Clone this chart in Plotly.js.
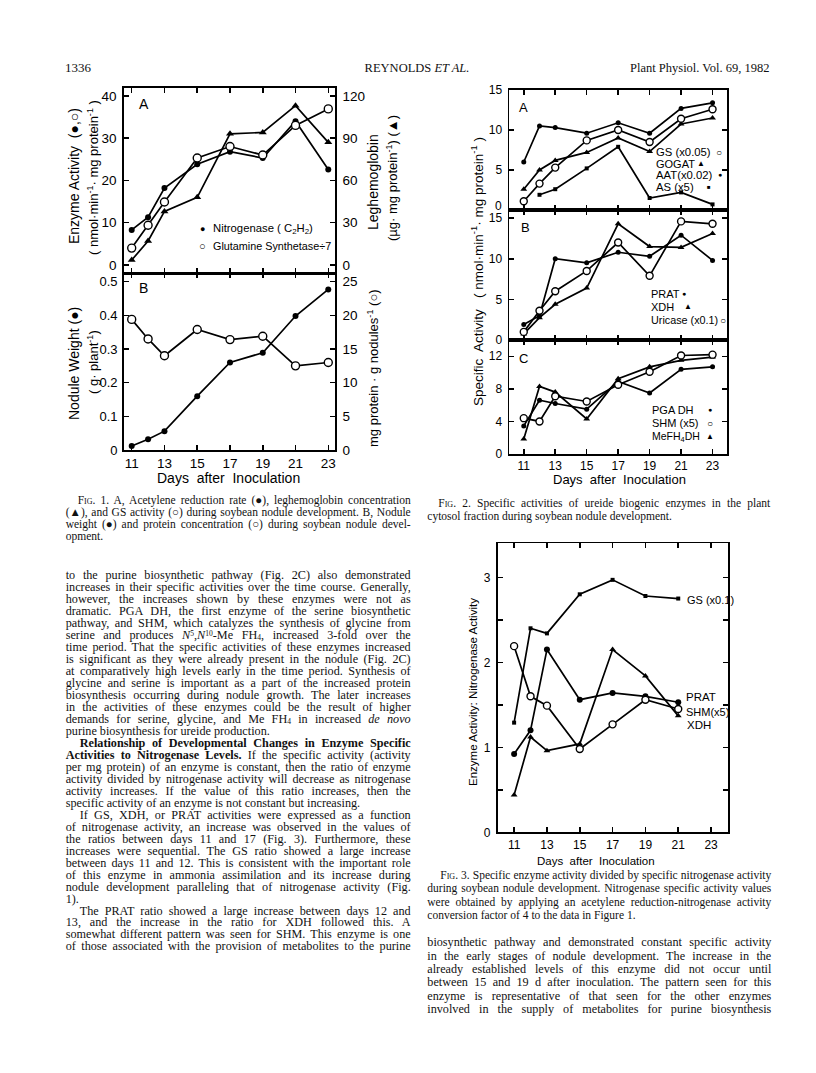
<!DOCTYPE html>
<html>
<head>
<meta charset="utf-8">
<script src="https://cdn.plot.ly/plotly-3.0.1.min.js"></script>
<style>
  body { margin: 0; background: #fff; }
  #page { position: relative; width: 816px; height: 1073px; overflow: hidden; background: #fff; }
  #plot { position: absolute; left: 0; top: 0; width: 816px; height: 1073px; }
  .ln { position: absolute; white-space: pre; font-family: "Liberation Serif", "Times New Roman", serif;
        line-height: 1; color: #111; }
  .ln sup, .ln sub { font-size: 0.62em; line-height: 0; position: relative; vertical-align: baseline; }
  .ln sup { top: -0.38em; }
  .ln sub { top: 0.12em; }
  .sc { font-variant: small-caps; }
</style>
</head>
<body>
<div id="page"><div id="plot"></div></div>
<script>
// ---- data ----
const days = [11, 12, 13, 15, 17, 19, 21, 23];
const tickDays = [11, 13, 15, 17, 19, 21, 23];

// Fig 1A
const nitrogenase = [8.3, 11.3, 18.2, 23.8, 26.8, 25.3, 34.0, 22.6];
const gsDiv7 = [4.0, 9.4, 14.9, 25.3, 28.0, 26.0, 33.0, 36.9];
const leghemoglobin = [3.5, 17, 38, 48, 93, 94, 113, 87];
// Fig 1B
const noduleWeight = [0.012, 0.032, 0.056, 0.16, 0.26, 0.289, 0.398, 0.477];
const noduleProtein = [19.4, 16.5, 14.0, 17.9, 16.4, 16.9, 12.5, 13.0];

// Fig 2A
const gs2 = [1.1, 3.3, 5.3, 8.7, 10.0, 8.5, 11.4, 12.6];
const gogat = [2.6, 5.0, 6.2, 7.2, 9.0, 7.3, 10.75, 11.5];
const aat = [6.0, 10.5, 10.3, 9.6, 10.9, 9.6, 12.7, 13.4];
const asDays = [12, 13, 15, 17, 19, 21, 23];
const asx5 = [1.9, 2.6, 5.2, 7.9, 1.5, 2.2, 0.7];
// Fig 2B
const prat = [1.9, 3.0, 10.0, 9.5, 10.8, 10.3, 12.9, 9.8];
const xdh = [0.75, 2.75, 4.4, 6.4, 14.3, 11.5, 11.4, 13.1];
const uricase = [1.0, 3.6, 6.0, 8.5, 12.0, 7.9, 14.6, 14.3];
// Fig 2C
const pgaDh = [3.45, 6.6, 6.2, 5.5, 8.9, 7.5, 10.4, 10.7];
const shm = [4.4, 4.0, 7.1, 6.45, 8.5, 10.1, 12.1, 12.2];
const meFh4Dh = [1.85, 8.3, 7.6, 4.3, 9.25, 10.7, 11.5, 11.9];

// Fig 3
const ratioDays = [11, 12, 13, 15, 17, 19, 21];
const gsRatio = [1.29, 2.40, 2.34, 2.80, 2.97, 2.78, 2.75];
const pratRatio = [0.92, 1.20, 2.15, 1.56, 1.64, 1.60, 1.53];
const shmRatio = [2.19, 1.60, 1.49, 0.98, 1.27, 1.56, 1.45];
const xdhRatio = [0.44, 1.12, 0.96, 1.04, 2.15, 1.84, 1.37];

// ---- page text (">" = indented first line, "|" at end = not justified) ----
const header = ["1336", "REYNOLDS <i>ET AL.</i>", "Plant Physiol. Vol. 69, 1982"];

const fig1Caption = [
    ">F<span class='sc'>ig</span>. 1. A, Acetylene reduction rate (●), leghemoglobin concentration",
    "(▲), and GS activity (○) during soybean nodule development. B, Nodule",
    "weight (●) and protein concentration (○) during soybean nodule devel-",
    "opment.|"];

const fig2Caption = [
    ">F<span class='sc'>ig</span>. 2. Specific activities of ureide biogenic enzymes in the plant",
    "cytosol fraction during soybean nodule development.|"];

const fig3Caption = [
    ">F<span class='sc'>ig</span>. 3. Specific enzyme activity divided by specific nitrogenase activity",
    "during soybean nodule development. Nitrogenase specific activity values",
    "were obtained by applying an acetylene reduction-nitrogenase activity",
    "conversion factor of 4 to the data in Figure 1.|"];

const leftBody = [
    "to the purine biosynthetic pathway (Fig. 2C) also demonstrated",
    "increases in their specific activities over the time course. Generally,",
    "however, the increases shown by these enzymes were not as",
    "dramatic. PGA DH, the first enzyme of the serine biosynthetic",
    "pathway, and SHM, which catalyzes the synthesis of glycine from",
    "serine and produces <i>N</i><sup>5</sup>,<i>N</i><sup>10</sup>-Me FH<sub>4</sub>, increased 3-fold over the",
    "time period. That the specific activities of these enzymes increased",
    "is significant as they were already present in the nodule (Fig. 2C)",
    "at comparatively high levels early in the time period. Synthesis of",
    "glycine and serine is important as a part of the increased protein",
    "biosynthesis occurring during nodule growth. The later increases",
    "in the activities of these enzymes could be the result of higher",
    "demands for serine, glycine, and Me FH<sub>4</sub> in increased <i>de novo</i>",
    "purine biosynthesis for ureide production.|",
    "><b>Relationship of Developmental Changes in Enzyme Specific</b>",
    "<b>Activities to Nitrogenase Levels.</b> If the specific activity (activity",
    "per mg protein) of an enzyme is constant, then the ratio of enzyme",
    "activity divided by nitrogenase activity will decrease as nitrogenase",
    "activity increases. If the value of this ratio increases, then the",
    "specific activity of an enzyme is not constant but increasing.|",
    ">If GS, XDH, or PRAT activities were expressed as a function",
    "of nitrogenase activity, an increase was observed in the values of",
    "the ratios between days 11 and 17 (Fig. 3). Furthermore, these",
    "increases were sequential. The GS ratio showed a large increase",
    "between days 11 and 12. This is consistent with the important role",
    "of this enzyme in ammonia assimilation and its increase during",
    "nodule development paralleling that of nitrogenase activity (Fig.",
    "1).|",
    ">The PRAT ratio showed a large increase between days 12 and",
    "13, and the increase in the ratio for XDH followed this. A",
    "somewhat different pattern was seen for SHM. This enzyme is one",
    "of those associated with the provision of metabolites to the purine"];

const rightBody = [
    "biosynthetic pathway and demonstrated constant specific activity",
    "in the early stages of nodule development. The increase in the",
    "already established levels of this enzyme did not occur until",
    "between 15 and 19 d after inoculation. The pattern seen for this",
    "enzyme is representative of that seen for the other enzymes",
    "involved in the supply of metabolites for purine biosynthesis"];

// ---- helpers ----
const W = 816, H = 1073;
const FONT = "Liberation Sans, Arial, sans-serif";
const AXW = 1.8;

function px(x) { return x / W; }
function py(y) { return 1 - y / H; }

function xaxisDef(x0, x1, range, anchor, labels, fsize)
{
    return { domain: [px(x0), px(x1)], range: range, anchor: anchor,
	     tickmode: "array", tickvals: tickDays, ticktext: tickDays.map(String),
	     showticklabels: labels, ticks: "inside", ticklen: 5, tickwidth: 1.5, tickcolor: "#000",
	     showline: true, linecolor: "#000", linewidth: AXW, mirror: "ticks",
	     showgrid: false, zeroline: false,
	     tickfont: { family: FONT, size: fsize, color: "#000" } };
}

function yaxisDef(y0, y1, range, anchor, vals, text, fsize, extra)
{
    const ax = { domain: [py(y1), py(y0)], range: range, anchor: anchor,
		 tickmode: "array", tickvals: vals, ticktext: text || vals.map(String),
		 ticks: "inside", ticklen: 5, tickwidth: 1.5, tickcolor: "#000",
		 showline: true, linecolor: "#000", linewidth: AXW, mirror: "ticks",
		 showgrid: false, zeroline: false, ticklabelstandoff: 3,
		 tickfont: { family: FONT, size: fsize, color: "#000" } };
    return Object.assign(ax, extra || {});
}

function series(xs, ys, xa, ya, sym, size, open)
{
    return { x: xs, y: ys, xaxis: xa, yaxis: ya, type: "scatter", mode: "lines+markers",
	     line: { color: "#000", width: 1.7 },
	     marker: { symbol: sym, size: size, color: open ? "#fff" : "#000",
		       line: { color: "#000", width: open ? 1.4 : 0 } },
	     cliponaxis: false, showlegend: false, hoverinfo: "skip" };
}

function note(text, x, y, size, opts)
{
    return Object.assign({ text: text, x: px(x), y: py(y), xref: "paper", yref: "paper",
			   showarrow: false, xanchor: "center", yanchor: "middle",
			   font: { family: FONT, size: size, color: "#000" } }, opts || {});
}

function lnote(text, x, y, size) { return note(text, x, y, size, { xanchor: "left" }); }
function vnote(text, x, y, size) { return note(text, x, y, size, { textangle: -90 }); }

// ---- traces ----
const traces = [
    series(days, leghemoglobin, "x", "y2", "triangle-up", 7, false),
    series(days, nitrogenase, "x", "y", "circle", 6, false),
    series(days, gsDiv7, "x", "y", "circle", 8, true),
    series(days, noduleWeight, "x2", "y3", "circle", 6, false),
    series(days, noduleProtein, "x2", "y4", "circle", 8, true),

    series(days, aat, "x3", "y5", "circle", 5, false),
    series(asDays, asx5, "x3", "y5", "square", 4, false),
    series(days, gogat, "x3", "y5", "triangle-up", 6, false),
    series(days, gs2, "x3", "y5", "circle", 7, true),

    series(days, prat, "x4", "y6", "circle", 5, false),
    series(days, xdh, "x4", "y6", "triangle-up", 6, false),
    series(days, uricase, "x4", "y6", "circle", 7, true),

    series(days, pgaDh, "x5", "y7", "circle", 5, false),
    series(days, meFh4Dh, "x5", "y7", "triangle-up", 6, false),
    series(days, shm, "x5", "y7", "circle", 7, true),

    series(ratioDays, gsRatio, "x6", "y8", "square", 4, false),
    series(ratioDays, pratRatio, "x6", "y8", "circle", 6, false),
    series(ratioDays, xdhRatio, "x6", "y8", "triangle-up", 6, false),
    series(ratioDays, shmRatio, "x6", "y8", "circle", 7, true)
];

// ---- layout ----
const f1x = [124, 335], f1r = [10.53, 23.41];
const f2x = [509.3, 726.7], f2r = [10.08, 23.9];
const f3x = [497.7, 728.3], f3r = [10, 24.05];

const layout = {
    width: W, height: H, autosize: false,
    margin: { l: 0, r: 0, t: 0, b: 0, pad: 0 },
    paper_bgcolor: "#fff", plot_bgcolor: "rgba(0,0,0,0)",
    showlegend: false,

    xaxis: xaxisDef(f1x[0], f1x[1], f1r, "y", false, 13),
    yaxis: yaxisDef(88, 273.3, [-1.96, 41.84], "x", [0, 10, 20, 30, 40], null, 13.5, { mirror: false }),
    yaxis2: yaxisDef(88, 273.3, [-5.88, 125.52], "x", [0, 30, 60, 90, 120], null, 13.5,
		     { overlaying: "y", side: "right", mirror: false }),

    xaxis2: xaxisDef(f1x[0], f1x[1], f1r, "y3", true, 13.5),
    yaxis3: yaxisDef(273.3, 450, [0, 0.525], "x2", [0, 0.1, 0.2, 0.3, 0.4, 0.5], null, 13,
		     { mirror: false, ticklabelstandoff: 2 }),
    yaxis4: yaxisDef(273.3, 450, [0, 26.25], "x2", [0, 5, 10, 15, 20, 25], null, 13.5,
		     { overlaying: "y3", side: "right", mirror: false }),

    xaxis3: xaxisDef(f2x[0], f2x[1], f2r, "y5", false, 12),
    yaxis5: yaxisDef(90, 210, [0, 15], "x3", [5, 10, 15], null, 12,
		     { minor: { tickvals: [0], ticks: "inside", ticklen: 5, tickwidth: 1.5, tickcolor: "#000" } }),
    xaxis4: xaxisDef(f2x[0], f2x[1], f2r, "y6", false, 12),
    yaxis6: yaxisDef(210, 340, [0, 16], "x4", [0, 5, 10, 15], null, 12),
    xaxis5: xaxisDef(f2x[0], f2x[1], f2r, "y7", true, 12),
    yaxis7: yaxisDef(340, 454, [0, 14], "x5", [0, 4, 8, 12], null, 12),

    xaxis6: xaxisDef(f3x[0], f3x[1], f3r, "y8", true, 12),
    yaxis8: yaxisDef(543.3, 832.3, [0, 3.4], "x6", [0, 1, 2, 3], null, 12,
		     { minor: { tickvals: [0.5, 1.5, 2.5], ticks: "inside", ticklen: 5, tickwidth: 1.5,
				tickcolor: "#000" } }),

    annotations: [
	// Fig 1
	note("A", 144, 104, 14),
	note("B", 143.5, 288.5, 14),
	note("●", 202, 228.5, 9),
	lnote("Nitrogenase ( C<sub>2</sub>H<sub>2</sub>)", 211, 228.5, 11.3),
	note("○", 202, 246, 11),
	lnote("Glutamine Synthetase÷7", 211, 246, 10.8),
	vnote("Enzyme Activity  (●,○)", 74, 176, 14),
	vnote("( nmol·min<sup>-1</sup>· mg protein<sup>-1</sup> )", 93, 178, 13),
	vnote("Leghemoglobin", 373, 182, 14),
	vnote("(µg· mg protein<sup>-1</sup>) (▲)", 392, 178, 13),
	vnote("Nodule Weight (●)", 74, 364, 14),
	vnote("( g· plant<sup>-1</sup>)", 93, 362, 13),
	vnote("mg protein · g nodules<sup>-1</sup> (○)", 373, 368, 13),
	note("Days  after  Inoculation", 228, 477.7, 14),

	// Fig 2
	note("A", 523.3, 107.5, 13),
	note("B", 525, 228, 13),
	note("C", 523.3, 358, 13),
	note("0", 498.5, 206, 12),
	lnote("GS (x0.05)", 654.3, 152, 11.3),
	note("○", 719.3, 152, 10),
	lnote("GOGAT", 654.3, 164, 11),
	note("▲", 701.4, 164, 8),
	lnote("AAT(x0.02)", 654.3, 174.5, 11.3),
	note("●", 719.5, 175, 7),
	lnote("AS (x5)", 654.3, 186.5, 11.3),
	note("■", 708.8, 187, 6),
	lnote("PRAT", 649, 293.5, 11),
	note("●", 684, 293.5, 7),
	lnote("XDH", 649, 306.5, 11),
	note("▲", 688, 306.5, 8),
	lnote("Uricase (x0.1)", 649, 320, 10.8),
	note("○", 723, 320, 10),
	lnote("PGA DH", 649.5, 410, 11),
	note("●", 710, 410, 7),
	lnote("SHM (x5)", 649.5, 423, 11),
	note("○", 710, 423, 10),
	lnote("MeFH<sub>4</sub>DH", 649.5, 436.5, 10.5),
	note("▲", 710, 436.5, 8),
	vnote("Specific  Activity   ( nmol·min<sup>-1</sup>· mg protein<sup>-1</sup> )", 477, 272, 13.5),
	note("Days  after  Inoculation", 619, 479, 13),

	// Fig 3
	lnote("GS (x0.1)", 685, 600, 11),
	lnote("PRAT", 683.5, 696.5, 11.5),
	lnote("SHM(x5)", 683.5, 711.5, 11),
	lnote("XDH", 685, 724.5, 11.5),
	vnote("Enzyme Activity: Nitrogenase Activity", 473, 692, 11.5),
	note("Days  after  Inoculation", 596, 860.7, 11.5)
    ]
};

Plotly.newPlot("plot", traces, layout, { staticPlot: true, displayModeBar: false });

// ---- page text, laid out line by line and justified ----
const page = document.getElementById("page");

function layLine(raw, x, yc, width, size, indent)
{
    let html = raw;
    let ind = 0;
    let justify = true;
    if (html.startsWith(">")) { html = html.slice(1); ind = indent; }
    if (html.endsWith("|")) { html = html.slice(0, -1); justify = false; }

    const div = document.createElement("div");
    div.className = "ln";
    div.style.left = (x + ind) + "px";
    div.style.top = (yc - size * 0.52) + "px";
    div.style.fontSize = size + "px";
    div.innerHTML = html;
    page.appendChild(div);

    if (justify)
    {
	const natural = div.getBoundingClientRect().width;
	const gaps = (div.textContent.match(/ /g) || []).length;
	if (gaps > 0)
	    div.style.wordSpacing = ((width - ind - natural) / gaps) + "px";
    }
    return div;
}

function layBlock(lines, x, y0, step, width, size, indent)
{
    lines.forEach(function (l, i) { layLine(l, x, y0 + i * step, width, size, indent); });
}

function layHeader()
{
    layLine(header[0] + "|", 65, 68, 0, 13, 0);
    const b = layLine(header[1] + "|", 0, 68, 0, 12.5, 0);
    b.style.left = (417 - b.getBoundingClientRect().width / 2) + "px";
    const c = layLine(header[2] + "|", 0, 68, 0, 12.5, 0);
    c.style.left = (769.5 - c.getBoundingClientRect().width) + "px";
}

layHeader();
layBlock(fig1Caption, 65.7, 500.7, 12.2, 345, 11.5, 12);
layBlock(leftBody, 65.7, 575.7, 11.97, 345, 12.2, 14);
layBlock(fig2Caption, 427.3, 504, 13.3, 343, 11.5, 11);
layBlock(fig3Caption, 427.3, 876, 13.3, 344, 11.5, 13);
layBlock(rightBody, 427.3, 942.7, 13.3, 344, 12.2, 14);
</script>
</body>
</html>
